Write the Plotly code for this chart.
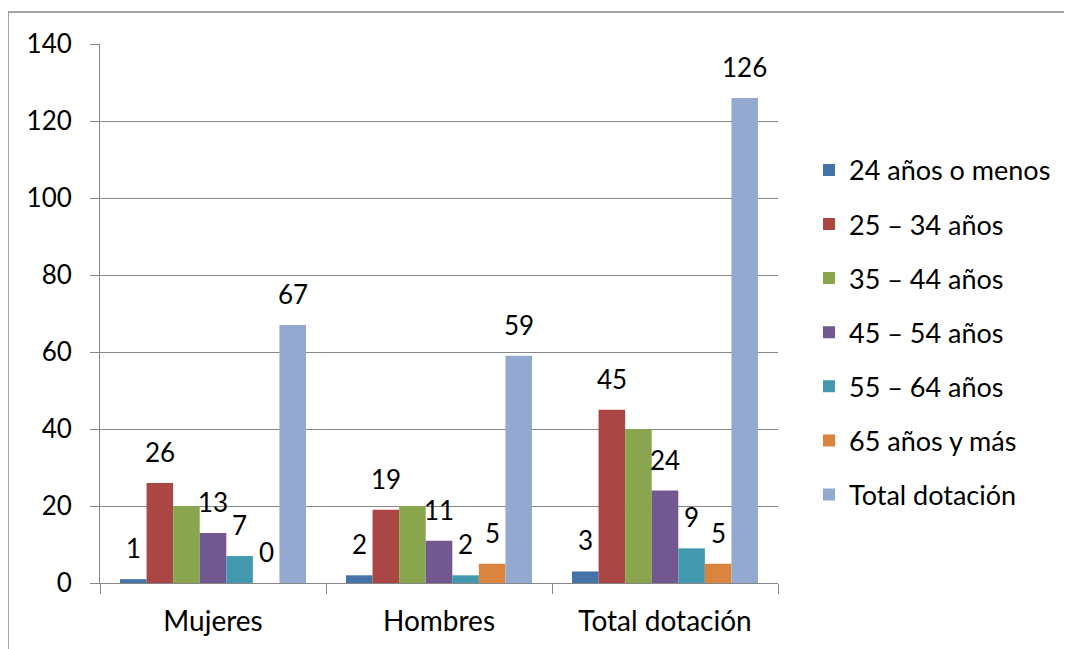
import plotly.graph_objects as go

categories = ["Mujeres", "Hombres", "Total dotación"]
series_names = ["24 años o menos", "25 – 34 años", "35 – 44 años", "45 – 54 años",
                "55 – 64 años", "65 años y más", "Total dotación"]
v_24_menos = [1, 2, 3]
v_25_34 = [26, 19, 45]
v_35_44 = [20, 20, 40]
v_45_54 = [13, 11, 24]
v_55_64 = [7, 2, 9]
v_65_mas = [0, 5, 5]
v_total = [67, 59, 126]
show_labels = [True, True, False, True, True, True, True]

colors = ["#4572A7", "#AA4643", "#89A54E", "#71588F", "#4198AF", "#DB843D", "#93A9CF"]
all_values = [v_24_menos, v_25_34, v_35_44, v_45_54, v_55_64, v_65_mas, v_total]

FONT = "Lato"
NUM_SIZE = 26
TXT_SIZE = 28

# layout geometry
ML, MT, PW, PH = 92, 36, 678, 539
W, H = 1072, 649
BARGAP = 0.177
n_series = len(series_names)
bar_px = PW / len(categories) * (1 - BARGAP) / n_series

fig = go.Figure()
annotations = []
for i, (name, vals) in enumerate(zip(series_names, all_values)):
    fig.add_trace(go.Bar(
        x=categories, y=vals, name=name,
        marker=dict(color=colors[i], line=dict(width=0)),
        legendgroup=f"g{i}",
    ))
    if show_labels[i]:
        for c, v in zip(categories, vals):
            annotations.append(dict(
                x=c, y=v, xref="x", yref="y", text=str(v), showarrow=False,
                xanchor="center", yanchor="bottom",
                xshift=(i - (n_series - 1) / 2) * bar_px, yshift=13,
                font=dict(family=FONT, size=NUM_SIZE, color="#000000"),
            ))

fig.update_layout(
    width=W, height=H,
    margin=dict(l=ML, r=W - ML - PW, t=MT, b=H - MT - PH),
    paper_bgcolor="white", plot_bgcolor="white",
    barmode="group", bargap=BARGAP, bargroupgap=0,
    font=dict(family=FONT, size=NUM_SIZE, color="#000000"),
    showlegend=True,
    legend=dict(x=1.0457, y=0.811, xanchor="left", yanchor="top",
                font=dict(family=FONT, size=27, color="#000000"),
                tracegroupgap=16, bgcolor="rgba(0,0,0,0)"),
    xaxis=dict(showgrid=False, showline=True, linecolor="#868686", linewidth=1,
               ticks="outside", ticklen=10, tickcolor="#868686", tickson="boundaries",
               ticklabelstandoff=13,
               tickfont=dict(family=FONT, size=TXT_SIZE)),
    yaxis=dict(range=[0, 140], dtick=20, showgrid=True, gridcolor="#868686", gridwidth=1,
               showline=True, linecolor="#868686", linewidth=1,
               ticks="outside", ticklen=9, tickcolor="#868686",
               ticklabelstandoff=13,
               zeroline=False, tickfont=dict(family=FONT, size=NUM_SIZE)),
    annotations=annotations,
    shapes=[dict(type="rect", xref="paper", yref="paper",
                 x0=-ML / PW, x1=2, y0=-1, y1=(PH + MT - 4) / PH,
                 line=dict(color="#868686", width=1.5), fillcolor="rgba(0,0,0,0)")],
)

fig.write_html("out.html")
